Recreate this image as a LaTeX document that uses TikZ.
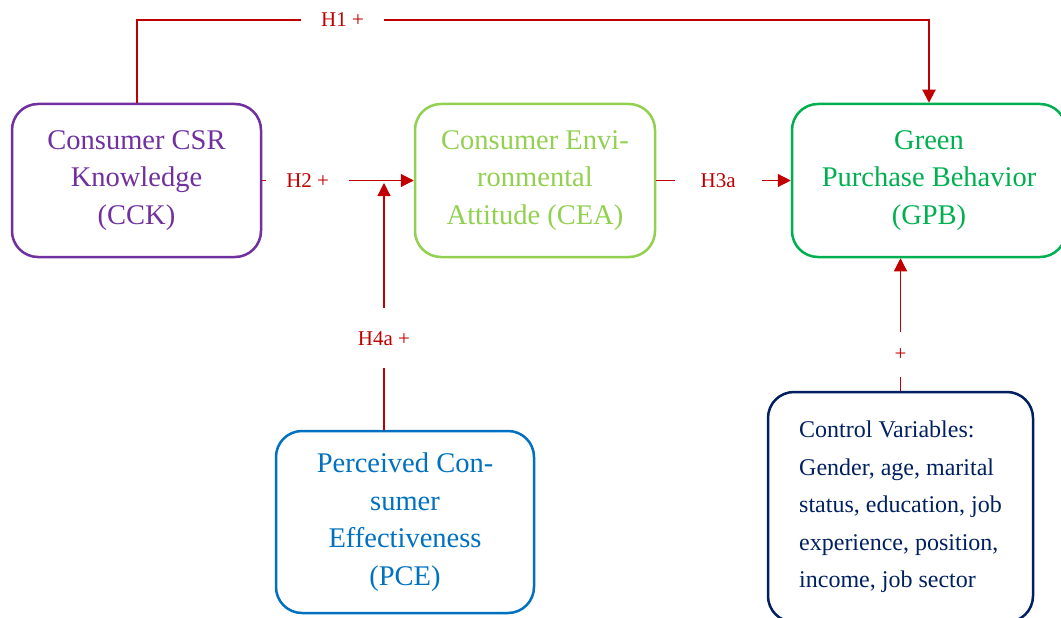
\documentclass[tikz,border=0pt]{standalone}
\usepackage{fontspec}
\setmainfont{Liberation Serif}
\usetikzlibrary{arrows.meta,positioning}
\definecolor{cckPurple}{RGB}{112,48,160}
\definecolor{ceaGreen}{RGB}{146,208,80}
\definecolor{gpbGreen}{RGB}{0,176,80}
\definecolor{pceBlue}{RGB}{0,112,192}
\definecolor{ctrlNavy}{RGB}{0,32,96}
\definecolor{hypRed}{RGB}{192,0,0}

\begin{document}
\begin{tikzpicture}[x=1pt,y=-1pt,
  box/.style={draw, rounded corners=26pt, line width=2.5pt, align=center, inner sep=0pt,
    font=\fontsize{28.5}{37.5}\selectfont},
  hyp/.style={hypRed, line width=1.2pt, -{Triangle[length=13pt,width=13pt]}},
  lbl/.style={fill=white, text=hypRed, font=\fontsize{21}{25}\selectfont, inner sep=20pt}]
\useasboundingbox (0,0) rectangle (1061,618);

\node[box, draw=cckPurple, text=cckPurple, minimum width=249pt, minimum height=153pt] (cck) at (136.5,180.5)
  {Consumer CSR\\Knowledge\\(CCK)};
\node[box, draw=ceaGreen, text=ceaGreen, minimum width=240pt, minimum height=153pt] (cea) at (535,180.5)
  {Consumer Envi-\\ronmental\\Attitude (CEA)};
\node[box, draw=gpbGreen, text=gpbGreen, minimum width=274pt, minimum height=153pt] (gpb) at (929,180.5)
  {Green\\Purchase Behavior\\(GPB)};
\node[box, draw=pceBlue, text=pceBlue, minimum width=258pt, minimum height=182pt] (pce) at (405,522)
  {Perceived Con-\\sumer\\Effectiveness\\(PCE)};
\node[box, draw=ctrlNavy, text=ctrlNavy, align=left, font=\fontsize{24}{37.5}\selectfont,
  minimum width=265pt, minimum height=230pt] (ctrl) at (900.5,507)
  {Control Variables:\\Gender, age, marital\\status, education, job\\experience, position,\\income, job sector};

% hypotheses
\coordinate (h1top) at (136.5,20);
\coordinate (h4tip) at (384,183);
\draw[hyp, line width=2pt] (cck.north) -- (h1top) -| node[lbl, pos=0.13] {H1 +} (gpb.north);
\draw[hyp] (cck.east) -- node[lbl, pos=0.3] {H2 +} (cea.west);
\draw[hyp] (cea.east) -- node[lbl, pos=0.46, inner xsep=26pt] {H3a} (gpb.west);
\draw[hyp] (pce.north -| h4tip) -- node[lbl, pos=0.37, inner ysep=23pt] {H4a +} (h4tip);
\draw[hyp] (ctrl.north) -- node[lbl, pos=0.274, inner ysep=17pt] {+} (ctrl.north |- gpb.south);
\end{tikzpicture}
\end{document}
